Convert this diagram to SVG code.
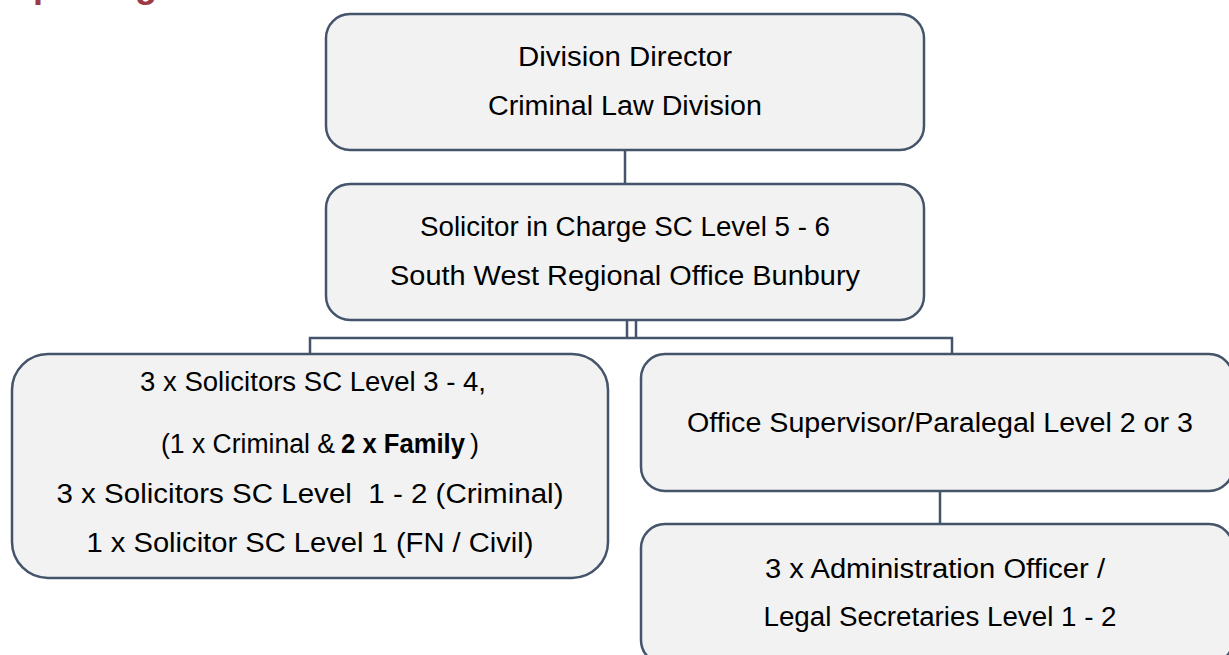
<svg xmlns="http://www.w3.org/2000/svg" width="1229" height="655" viewBox="0 0 1229 655">
<style>
.box{fill:#F2F2F2;stroke:#44546A;stroke-width:2.5}
.t{font-family:"Liberation Sans",Arial,sans-serif;font-size:27px;fill:#000;text-anchor:middle}
.s{font-family:"Liberation Sans",Arial,sans-serif;font-size:27px;fill:#000;text-anchor:start}
.b{font-weight:bold}
.c{fill:none;stroke:#44546A;stroke-width:2.5}
.h{font-family:"Liberation Sans",Arial,sans-serif;font-size:36px;font-weight:bold;fill:#9C3A45}
</style>
<rect width="1229" height="655" fill="#fff"/>
<text class="h" x="-13" y="-3">Reporting</text>
<g id="connectors">
<line class="c" x1="625" y1="150" x2="625" y2="184"/>
<line class="c" x1="627" y1="320" x2="627" y2="338"/>
<line class="c" x1="636" y1="320" x2="636" y2="338"/>
<polyline class="c" points="310,354 310,338 952,338 952,354"/>
<line class="c" x1="940" y1="491" x2="940" y2="524"/>
</g>
<g id="node-director">
<rect class="box" x="326" y="14" width="598" height="136" rx="24"/>
<text class="t" x="625" y="66" textLength="214" lengthAdjust="spacingAndGlyphs">Division Director</text>
<text class="t" x="625" y="115" textLength="274" lengthAdjust="spacingAndGlyphs">Criminal Law Division</text>
</g>
<g id="node-solicitor-in-charge">
<rect class="box" x="326" y="184" width="598" height="136" rx="24"/>
<text class="t" x="625" y="236" textLength="410" lengthAdjust="spacingAndGlyphs">Solicitor in Charge SC Level 5 - 6</text>
<text class="t" x="625" y="285" textLength="470" lengthAdjust="spacingAndGlyphs">South West Regional Office Bunbury</text>
</g>
<g id="node-solicitors">
<rect class="box" x="12" y="354" width="596" height="224" rx="36"/>
<text class="t" x="313" y="391" textLength="346" lengthAdjust="spacingAndGlyphs">3 x Solicitors SC Level 3 - 4,</text>
<text class="s" x="161" y="453" textLength="174" lengthAdjust="spacingAndGlyphs">(1 x Criminal &amp;</text>
<text class="s b" x="341" y="453" textLength="124" lengthAdjust="spacingAndGlyphs">2 x Family</text>
<text class="s" x="470" y="453">)</text>
<text class="t" x="310" y="503" textLength="507" lengthAdjust="spacingAndGlyphs">3 x Solicitors SC Level&#160; 1 - 2 (Criminal)</text>
<text class="t" x="310" y="552" textLength="447" lengthAdjust="spacingAndGlyphs">1 x Solicitor SC Level 1 (FN / Civil)</text>
</g>
<g id="node-office-supervisor">
<rect class="box" x="641" y="354" width="592" height="137" rx="24"/>
<text class="t" x="940" y="432" textLength="506" lengthAdjust="spacingAndGlyphs">Office Supervisor/Paralegal Level 2 or 3</text>
</g>
<g id="node-admin">
<rect class="box" x="641" y="524" width="592" height="140" rx="24"/>
<text class="t" x="935" y="578" textLength="340" lengthAdjust="spacingAndGlyphs">3 x Administration Officer /</text>
<text class="t" x="940" y="626" textLength="353" lengthAdjust="spacingAndGlyphs">Legal Secretaries Level 1 - 2</text>
</g>
</svg>
